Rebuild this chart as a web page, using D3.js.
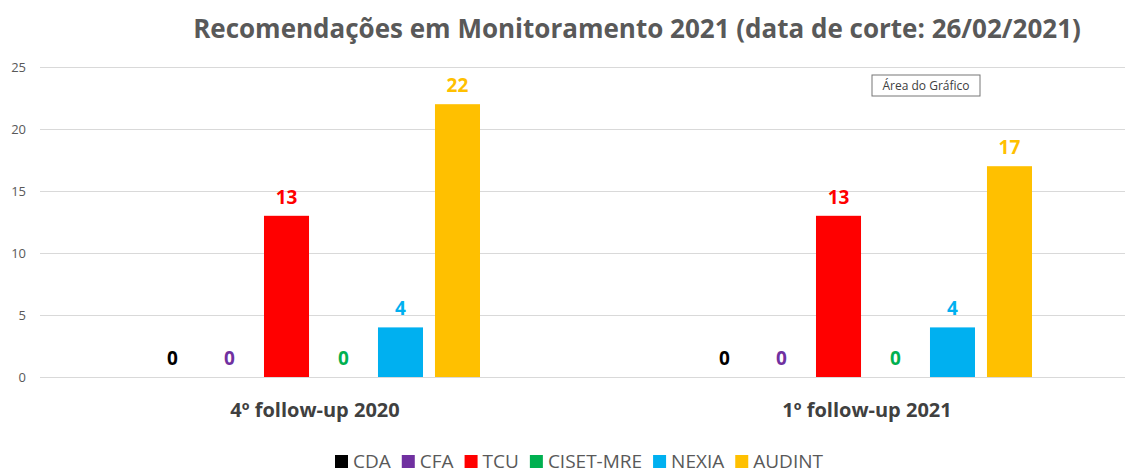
<!DOCTYPE html>
<html>
<head>
<meta charset="utf-8">
<script src="https://cdn.jsdelivr.net/npm/d3@7"></script>
<style>
  body { margin: 0; background: #fff; }
  text { font-family: "Open Sans", "Noto Sans", sans-serif; }
</style>
</head>
<body>
<div id="chart"></div>
<script>
const groups = ["4º follow-up 2020", "1º follow-up 2021"];
const series = ["CDA", "CFA", "TCU", "CISET-MRE", "NEXIA", "AUDINT"];
const colors = ["#000000", "#7030A0", "#FF0000", "#00B050", "#00B0F0", "#FFC000"];
const values2020 = [0, 0, 13, 0, 4, 22];
const values2021 = [0, 0, 13, 0, 4, 17];
const yTicks = [0, 5, 10, 15, 20, 25];

const width = 1129, height = 475;

const svg = d3.select("#chart").append("svg")
    .attr("width", width)
    .attr("height", height);

const rows = [values2020, values2021];

// scales
const x0 = d3.scaleBand().domain(groups).range([39, 1143]);
const x1 = d3.scaleBand().domain(series).range([-165, 165]).paddingInner(0.21);
const y = d3.scaleLinear().domain([0, 25]).range([377, 67]);
const color = d3.scaleOrdinal(series, colors);

// title
svg.append("text")
    .attr("x", 637).attr("y", 38)
    .attr("text-anchor", "middle")
    .attr("font-size", 26).attr("font-weight", "bold")
    .attr("fill", "#595959")
    .text("Recomendações em Monitoramento 2021 (data de corte: 26/02/2021)");

// gridlines + y axis
const yAxis = d3.axisLeft(y).tickValues(yTicks).tickSize(-1085).tickPadding(14);
const ga = svg.append("g").attr("transform", "translate(40,0)").call(yAxis);
ga.select(".domain").remove();
ga.selectAll(".tick line").attr("stroke", "#d9d9d9");
ga.selectAll(".tick text").attr("fill", "#595959").attr("font-size", 13);

// bars
const gGroups = svg.append("g").selectAll("g")
    .data(groups)
    .join("g")
    .attr("transform", d => `translate(${x0(d) + x0.bandwidth() / 2},0)`);

gGroups.each(function(g, gi) {
    const sel = d3.select(this);
    const data = series.map((s, i) => ({ s, v: rows[gi][i] }));
    sel.selectAll("rect")
        .data(data)
        .join("rect")
        .attr("x", d => x1(d.s))
        .attr("width", x1.bandwidth())
        .attr("y", d => y(d.v))
        .attr("height", d => y(0) - y(d.v))
        .attr("fill", d => color(d.s));
    sel.selectAll("text.val")
        .data(data)
        .join("text")
        .attr("class", "val")
        .attr("x", d => x1(d.s) + x1.bandwidth() / 2)
        .attr("y", d => y(d.v) - 12)
        .attr("text-anchor", "middle")
        .attr("font-size", 19).attr("font-weight", "bold")
        .attr("fill", d => color(d.s))
        .text(d => d.v);
    sel.append("text")
        .attr("x", 0).attr("y", 417)
        .attr("text-anchor", "middle")
        .attr("font-size", 20).attr("font-weight", "bold")
        .attr("fill", "#404040")
        .text(g);
});

// legend (kept just inside the bottom edge)
const legend = svg.append("g");
let lx = 335;
series.forEach((s, i) => {
    const item = legend.append("g").attr("transform", `translate(${lx},0)`);
    item.append("rect")
        .attr("x", 0).attr("y", 455)
        .attr("width", 13).attr("height", 13)
        .attr("fill", colors[i]);
    const t = item.append("text")
        .attr("x", 18).attr("y", 468)
        .attr("font-size", 19)
        .attr("fill", "#595959")
        .text(s);
    lx += 18 + t.node().getComputedTextLength() + 11;
});

// "Área do Gráfico" tooltip
const tip = svg.append("g").attr("transform", "translate(872,75)");
tip.append("rect")
    .attr("width", 108).attr("height", 21)
    .attr("fill", "#fff").attr("stroke", "#767676");
tip.append("text")
    .attr("x", 54).attr("y", 15)
    .attr("text-anchor", "middle")
    .attr("font-size", 12).attr("fill", "#404040")
    .text("Área do Gráfico");
</script>
</body>
</html>
